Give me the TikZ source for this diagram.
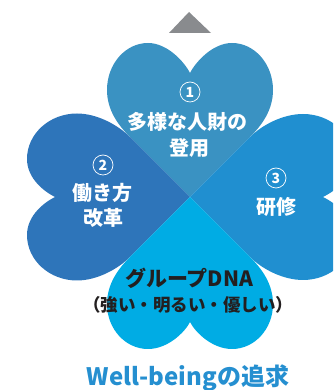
\documentclass[tikz,border=0pt]{standalone}
\usepackage{fontspec}
\newfontfamily\jp{Noto Sans CJK JP}
\definecolor{ctop}{RGB}{58,146,194}
\definecolor{cleft}{RGB}{46,117,186}
\definecolor{cright}{RGB}{32,143,208}
\definecolor{cbottom}{RGB}{0,172,228}
\definecolor{ctext}{RGB}{37,143,208}
\definecolor{cgray}{RGB}{137,139,142}
\definecolor{cdark}{RGB}{35,31,32}
% #1=W (half width), #2=yW, #3=c (lobe centre), #4=T (length), #5=N (notch)
\newcommand\heartpath[5]{%
 (0,0) -- (-60,60) .. controls (-72,72) and (-#1,{#2-20}) .. (-#1,#2)
 .. controls (-#1,{#2+0.5523*(#4-#2)}) and ({-#3-0.5523*(#1-#3)},#4) .. (-#3,#4)
 .. controls ({-#3+20},#4) and (-5,{#5+10}) .. (0,#5)
 .. controls (5,{#5+10}) and ({#3-20},#4) .. (#3,#4)
 .. controls ({#3+0.5523*(#1-#3)},#4) and (#1,{#2+0.5523*(#4-#2)}) .. (#1,#2)
 .. controls (#1,{#2-20}) and (72,72) .. (60,60) -- cycle}
\tikzset{
 jpw/.style={text=white,font=\jp\bfseries\fontsize{20}{22}\selectfont,inner sep=0pt},
 numc/.style={circle,draw=white,line width=0.7pt,minimum size=20pt,inner sep=0pt,
   text=white,font=\jp\bfseries\fontsize{14}{16}\selectfont},
}
\begin{document}
\begin{tikzpicture}[x=1pt,y=1pt]
\useasboundingbox (0,0) rectangle (333,390);
\clip (0,0) rectangle (333,390);
% hearts
\begin{scope}[shift={(190,193)}]
 \fill[ctop] \heartpath{83}{107}{42}{154}{124};
 \begin{scope}[rotate=90]
  \fill[cleft] \heartpath{83.5}{113}{38}{163}{135};
 \end{scope}
 \begin{scope}[rotate=-90]
  \fill[cright] \heartpath{83}{113}{38}{163}{133};
 \end{scope}
 \begin{scope}[rotate=180]
  \fill[cbottom] \heartpath{83}{107}{42}{152}{125};
 \end{scope}
\end{scope}
% gray triangle
\fill[cgray] (189,378) -- (211,357) -- (169,357) -- cycle;
% texts
\node[numc] (n1) at (190,298) {1};
\node[jpw] (t1a) at (187,268) {多様な人財の};
\node[jpw] (t1b) at (189,242) {登用};
\node[numc] (n2) at (103,225) {2};
\node[jpw] (t2a) at (102,197) {働き方};
\node[jpw] (t2b) at (103,172) {改革};
\node[numc] (n3) at (276,212) {3};
\node[jpw] (t3) at (276,183) {研修};
\node[inner sep=0pt,text=cdark,font=\jp\bfseries\fontsize{21}{23}\selectfont] (dna) at (189,112) {グループDNA};
\node[inner sep=0pt,text=cdark,font=\jp\bfseries\fontsize{17.5}{19}\selectfont] (sub) at (188,85) {（強い・明るい・優しい）};
\node[inner sep=0pt,text=ctext,font=\jp\bfseries\fontsize{24}{26}\selectfont] (wb) at (188,12) {Well-beingの追求};
\end{tikzpicture}
\end{document}
